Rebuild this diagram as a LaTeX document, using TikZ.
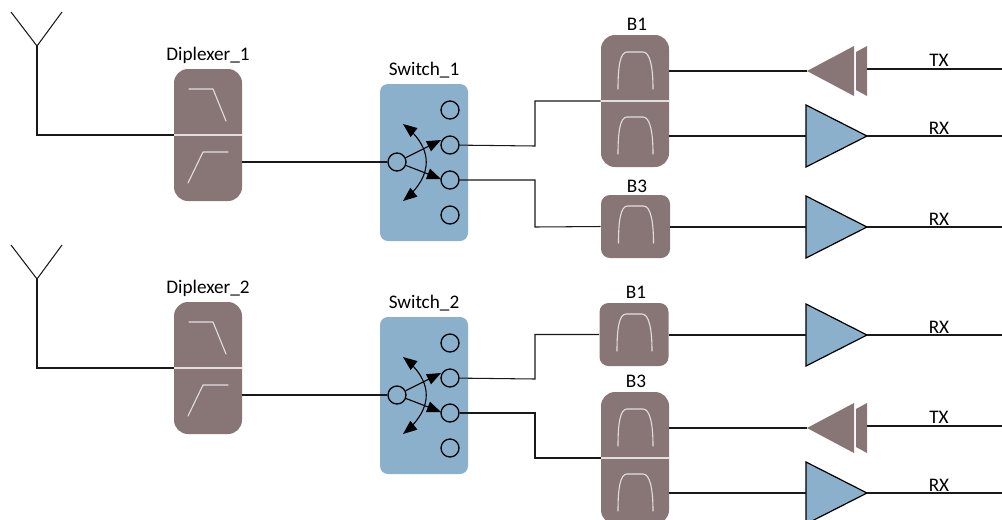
\documentclass[tikz,border=0pt]{standalone}
\usepackage{fontspec}
\setmainfont{Carlito}
\usetikzlibrary{arrows.meta,calc,bending}
\definecolor{brn}{HTML}{887677}
\definecolor{blu}{HTML}{8BB0CC}
\definecolor{lite}{HTML}{E2DEDE}
\def\px{0.75pt}
\tikzset{
  x=0.75pt,y=-0.75pt,
  wire/.style={draw=black!90,line width=1.05*\px,line cap=butt,line join=miter},
  lbl/.style={font=\fontsize{14.4}{16}\selectfont,inner sep=0pt,text=black},
  brownbox/.style={fill=brn,draw=none,inner sep=0pt},
  bigbox/.style={brownbox,rounded corners=14*\px,minimum width=68*\px,minimum height=132*\px},
  smallbox/.style={brownbox,rounded corners=9*\px,minimum width=69*\px,minimum height=63*\px},
  swbox/.style={fill=blu,draw=none,inner sep=0pt,rounded corners=8*\px,minimum width=88*\px,minimum height=157*\px},
  port/.style={circle,draw=black,line width=1.3*\px,minimum size=18*\px,inner sep=0pt},
  icon/.style={draw=lite,line width=1.1*\px,line cap=round,line join=round},
  splitline/.style={draw=lite,line width=1.6*\px},
  ampblue/.style={fill=blu,draw=black,line width=1.2*\px,line join=miter},
  ampbrown/.style={fill=brn,draw=none},
  swarrow/.style={draw=black,line width=1.1*\px,-{Triangle[length=14*\px,width=11*\px]}},
  swarc/.style={draw=black,line width=1.1*\px,{Triangle[length=14*\px,width=11*\px,flex=0]}-{Triangle[length=14*\px,width=11*\px,flex=0]}}
}
% bandpass curve, centred at x=#1, bottom y=#2
\newcommand{\bpicon}[2]{%
  \draw[icon] (#1-17,#2) .. controls (#1-17,#2-22) and (#1-15,#2-37) .. (#1-8,#2-37) -- (#1+8,#2-37) .. controls (#1+15,#2-37) and (#1+18,#2-22) .. (#1+18,#2);}
% antenna and diplexer: name, vertical offset
\newcommand{\diplexer}[3]{%
  \node[bigbox] (#1) at (208,135+#2) {};
  \draw[splitline] (#1.west) -- (#1.east);
  \draw[icon] (189,89+#2) -- (213,89+#2) -- (226,121+#2);
  \draw[icon] (188,183+#2) -- (203,152+#2) -- (228,152+#2);
  \node[lbl] (#1l) at (208,55+#2) {#3};
  \coordinate (#1ant) at (37,46+#2);
  \coordinate (#1a) at (11,12+#2);
  \coordinate (#1b) at (62,12+#2);
  \draw[wire] (#1a) -- (#1ant) -- (#1b);
  \draw[wire] (#1ant) |- (#1.west);
}
\newcommand{\switchblock}[3]{%
  \node[swbox] (#1) at (424,162.5+#2) {};
  \node[lbl] (#1l) at (424,70+#2) {#3};
  \node[port] (#1in) at (397,162+#2) {};
  \node[port] (#1p) at (450,110+#2) {};
  \node[port] (#1q) at (450,145+#2) {};
  \node[port] (#1r) at (450,180+#2) {};
  \node[port] (#1s) at (450,215+#2) {};
  \coordinate (#1up) at (441,140+#2);
  \coordinate (#1dn) at (441,179+#2);
  \draw[swarrow] (#1in) -- (#1up);
  \draw[swarrow] (#1in) -- (#1dn);
  \coordinate (#1tipa) at (403,124+#2);
  \coordinate (#1tipb) at (403,201+#2);
  \draw[swarc] (#1tipa) .. controls (434,148+#2) and (434,176+#2) .. (#1tipb);
}
\newcommand{\ampl}[2]{%
  \coordinate (#1i) at (806,#2);
  \coordinate (#1o) at (867,#2);
  \draw[ampblue] (#1i) -- (806,#2-31) -- (#1o) -- (806,#2+31) -- cycle;
}
\newcommand{\txamp}[3]{% name, line y on filter side, line y on TX side
  \coordinate (#1i) at (807,#2);
  \coordinate (#1o) at (867,#3);
  \fill[ampbrown] (#1i) -- (854,#2-25) -- (854,#2+25) -- cycle;
  \fill[ampbrown] (856,#2-19) -- (867,#2-25) -- (867,#2+25) -- (856,#2+19) -- cycle;
}
\begin{document}
\begin{tikzpicture}
\useasboundingbox (0,0) rectangle (1002,519);

\diplexer{dipa}{0}{Diplexer\_1}
\diplexer{dipb}{233}{Diplexer\_2}
\switchblock{swa}{0}{Switch\_1}
\switchblock{swb}{233}{Switch\_2}

% filters
\node[bigbox] (fa) at (635,101) {};
\draw[splitline] (fa.west) -- (fa.east);
\bpicon{635}{89}
\bpicon{635}{154}
\node[lbl] (fal) at (637,24) {B1};

\node[smallbox] (fb) at (635.5,226.5) {};
\bpicon{635.5}{243}
\node[lbl] (fbl) at (637,186) {B3};

\node[smallbox] (fc) at (634,334.5) {};
\bpicon{634}{351}
\node[lbl] (fcl) at (636,292) {B1};

\node[bigbox] (fd) at (635,458) {};
\draw[splitline] (fd.west) -- (fd.east);
\bpicon{635}{446}
\bpicon{635}{511}
\node[lbl] (fdl) at (636,381) {B3};

% amplifiers
\txamp{ta}{71}{69}
\ampl{aa}{136}
\ampl{ab}{227}
\ampl{ac}{335}
\txamp{td}{428}{426}
\ampl{ad}{493}

% output ends
\coordinate (ea) at (1002,69);
\coordinate (eb) at (1002,136);
\coordinate (ec) at (1002,227);
\coordinate (ed) at (1002,335);
\coordinate (ee) at (1002,426);
\coordinate (ef) at (1002,493);

% connectors
\draw[wire] (dipa.east |- swain) -- (swain);
\draw[wire] (dipb.east |- swbin) -- (swbin);
\draw[wire] (swaq) -- (535,146) |- (fa.west);
\draw[wire] (swar) -| (535,227) -- (fb.west);
\draw[wire] (swbq) -- (535,379) |- (fc.west);
\draw[wire] (swbr) -| (535,458) -- (fd.west);
\draw[wire] (fa.east |- tai) -- (tai);
\draw[wire] (fa.east |- aai) -- (aai);
\draw[wire] (fb.east |- abi) -- (abi);
\draw[wire] (fc.east |- aci) -- (aci);
\draw[wire] (fd.east |- tdi) -- (tdi);
\draw[wire] (fd.east |- adi) -- (adi);
\draw[wire] (tao) -- (ea);
\draw[wire] (aao) -- (eb);
\draw[wire] (abo) -- (ec);
\draw[wire] (aco) -- (ed);
\draw[wire] (tdo) -- (ee);
\draw[wire] (ado) -- (ef);

% signal labels
\node[lbl] (la) at (939,60) {TX};
\node[lbl] (lb) at (939,128) {RX};
\node[lbl] (lc) at (939,219) {RX};
\node[lbl] (ld) at (939,327) {RX};
\node[lbl] (le) at (939,417) {TX};
\node[lbl] (lf) at (939,485) {RX};
\end{tikzpicture}
\end{document}
